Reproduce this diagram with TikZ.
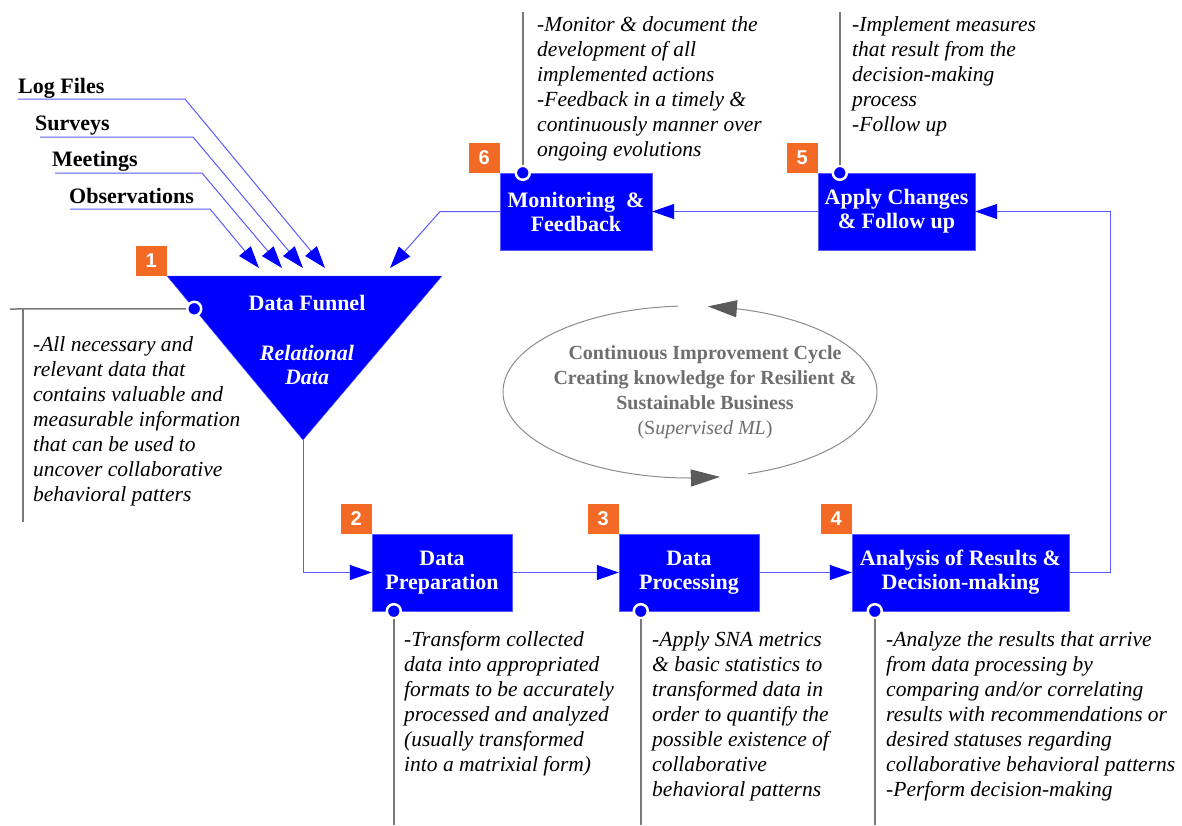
\documentclass[tikz,border=0pt]{standalone}
\usepackage{fontspec}
\setmainfont{Liberation Serif}
\newfontfamily\badgefont{Liberation Sans}
\usetikzlibrary{arrows.meta,positioning,calc}
\definecolor{stepblue}{HTML}{0000FF}
\definecolor{lineblue}{HTML}{5A5AFF}
\definecolor{badgeorange}{HTML}{F26A26}
\definecolor{cyclegray}{HTML}{6E6E6E}
\definecolor{cycleline}{HTML}{8C8C8C}
\definecolor{cycletip}{HTML}{5A5A5A}
\definecolor{calloutgray}{HTML}{7A7A7A}

\tikzset{
  stepbox/.style={draw=lineblue,fill=stepblue,text=white,align=center,inner sep=0pt,
    minimum height=77pt,font=\fontsize{22}{24}\selectfont\bfseries},
  badge/.style={fill=badgeorange,text=white,inner sep=0pt,minimum width=31pt,minimum height=30pt,
    font=\badgefont\fontsize{20}{20}\selectfont\bfseries},
  flow/.style={draw=lineblue,line width=1pt,-{Triangle[length=22pt,width=15pt,color=stepblue]}},
  pin/.style={circle,draw=white,line width=2.5pt,fill=stepblue,minimum size=14pt,inner sep=0pt},
  callout/.style={draw=calloutgray,line width=1.5pt},
  note/.style={anchor=north west,align=left,inner sep=0pt,font=\fontsize{21.5}{25}\selectfont\itshape},
  source/.style={anchor=base west,inner sep=0pt,font=\fontsize{22}{22}\selectfont\bfseries},
  cycleflow/.style={draw=cycleline,line width=1pt},
  cyclehead/.style={-{Triangle[length=29pt,width=17pt,color=cycletip]}},
}

\begin{document}
\begin{tikzpicture}[x=1pt,y=-1pt]
\path[fill=white,use as bounding box] (0,0) rectangle (1182,825);

% funnel
\coordinate (fTL) at (167,276);
\coordinate (fTR) at (442,276);
\coordinate (fB) at (303,440);
\filldraw[fill=stepblue,draw=lineblue] (fTL) -- (fTR) -- (fB) -- cycle;
\node[text=white,font=\fontsize{22}{24}\selectfont\bfseries] (funnel) at (307,303) {Data Funnel};
\node[text=white,align=center,font=\fontsize{22}{24}\selectfont\bfseries\itshape] (rel) at (307,365) {Relational\\Data};
\node[badge,above left=0pt and 0pt of fTL] (n1) {1};

% steps
\node[stepbox,minimum width=140pt] (b2) at (442,572.5) {Data\\Preparation};
\node[stepbox,minimum width=140pt] (b3) at (689,572.5) {Data\\Processing};
\node[stepbox,minimum width=217pt] (b4) at (960.5,572.5) {Analysis of Results \&\\Decision-making};
\node[stepbox,minimum width=157pt] (b5) at (896.5,211.5) {Apply Changes\\\& Follow up};
\node[stepbox,minimum width=152pt] (b6) at (576,211.5) {Monitoring\ \ \&\\Feedback};

\node[badge,above left=0pt and 0pt of b2.north west] (n2) {2};
\node[badge,above left=0pt and 0pt of b3.north west] (n3) {3};
\node[badge,above left=0pt and 0pt of b4.north west] (n4) {4};
\node[badge,above left=0pt and 0pt of b5.north west] (n5) {5};
\node[badge,above left=0pt and 0pt of b6.north west] (n6) {6};

% sources
\node[source] (lf) at (18,93) {Log Files};
\node[source] (sv) at (35,130.5) {Surveys};
\node[source] (mt) at (52,166.5) {Meetings};
\node[source] (ob) at (69,203) {Observations};
\coordinate (lfS) at (18,99);
\coordinate (svS) at (40,137);
\coordinate (mtS) at (55,173);
\coordinate (obS) at (70,209);
\coordinate (lfT) at (325,268);
\coordinate (svT) at (303,268);
\coordinate (mtT) at (282,268);
\coordinate (obT) at (259,268);
\draw[flow] (lfS) -- ++(167,0) -- (lfT);
\draw[flow] (svS) -- ++(153,0) -- (svT);
\draw[flow] (mtS) -- ++(147,0) -- (mtT);
\draw[flow] (obS) -- ++(140,0) -- (obT);

% main flow
\coordinate (loopR) at (1110,211.5);
\coordinate (bend6) at (440,211.5);
\coordinate (in6) at (390,268);
\draw[flow] (fB) |- (b2);
\draw[flow] (b2) -- (b3);
\draw[flow] (b3) -- (b4);
\draw[flow] (b4.east) -| (loopR) -- (b5);
\draw[flow] (b5) -- (b6);
\draw[flow] (b6) -- (bend6) -- (in6);

% callouts
\node[pin] (p1) at ($(fTL)!0.2!(fB)$) {};
\node[pin] (p2) at ($(b2.south west)+(22,0)$) {};
\node[pin] (p3) at ($(b3.south west)+(22,0)$) {};
\node[pin] (p4) at ($(b4.south west)+(23,0)$) {};
\node[pin] (p5) at ($(b5.north west)+(22,0)$) {};
\node[pin] (p6) at ($(b6.north west)+(23,0)$) {};
\coordinate (c1a) at (10,309);
\coordinate (c1b) at (23,309);
\coordinate (c1c) at (23,522);
\draw[callout] (p1) -- (c1a);
\draw[callout] (c1b) -- (c1c);
\draw[callout] (p2) -- (p2 |- 0,825);
\draw[callout] (p3) -- (p3 |- 0,825);
\draw[callout] (p4) -- (p4 |- 0,825);
\draw[callout] (p5) -- (p5 |- 0,12);
\draw[callout] (p6) -- (p6 |- 0,12);

\node[note] (t1) at (33,336) {-All necessary and\\relevant data that\\contains valuable and\\measurable information\\that can be used to\\uncover collaborative\\behavioral patters};
\node[note] (t2) at (404,631) {-Transform collected\\data into appropriated\\formats to be accurately\\processed and analyzed\\(usually transformed\\into a matrixial form)};
\node[note] (t3) at (652,631) {-Apply SNA metrics\\\& basic statistics to\\transformed data in\\order to quantify the\\possible existence of\\collaborative\\behavioral patterns};
\node[note] (t4) at (886,631) {-Analyze the results that arrive\\from data processing by\\comparing and/or correlating\\results with recommendations or\\desired statuses regarding\\collaborative behavioral patterns\\-Perform decision-making};
\node[note] (t5) at (852,16) {-Implement measures\\that result from the\\decision-making\\process\\-Follow up};
\node[note] (t6) at (537,16) {-Monitor \& document the\\development of all\\implemented actions\\-Feedback in a timely \&\\continuously manner over\\ongoing evolutions};

% improvement cycle
\node[text=cyclegray,align=center,font=\fontsize{20}{25}\selectfont\bfseries] (cyc) at (705,392)
  {Continuous Improvement Cycle\\Creating knowledge for Resilient \&\\Sustainable Business\\{\mdseries(S\textit{upervised ML})}};
\coordinate (cycTopBase) at ({690+187*cos(75.4)},{392-86*sin(75.4)});
\coordinate (cycTopTip) at ({690+187*cos(84.5)},{392-86*sin(84.5)});
\coordinate (cycBotBase) at ({690+187*cos(270)},{392-86*sin(270)});
\coordinate (cycBotTip) at ({690+187*cos(279.2)},{392-86*sin(279.2)});
\draw[cycleflow] plot[domain=93.7:270,samples=90] ({690+187*cos(\x)},{392-86*sin(\x)});
\draw[cycleflow] plot[domain=288:435.4,samples=90] ({690+187*cos(\x)},{392-86*sin(\x)});
\draw[cycleflow,cyclehead] (cycTopBase) -- (cycTopTip);
\draw[cycleflow,cyclehead] (cycBotBase) -- (cycBotTip);
\end{tikzpicture}
\end{document}
